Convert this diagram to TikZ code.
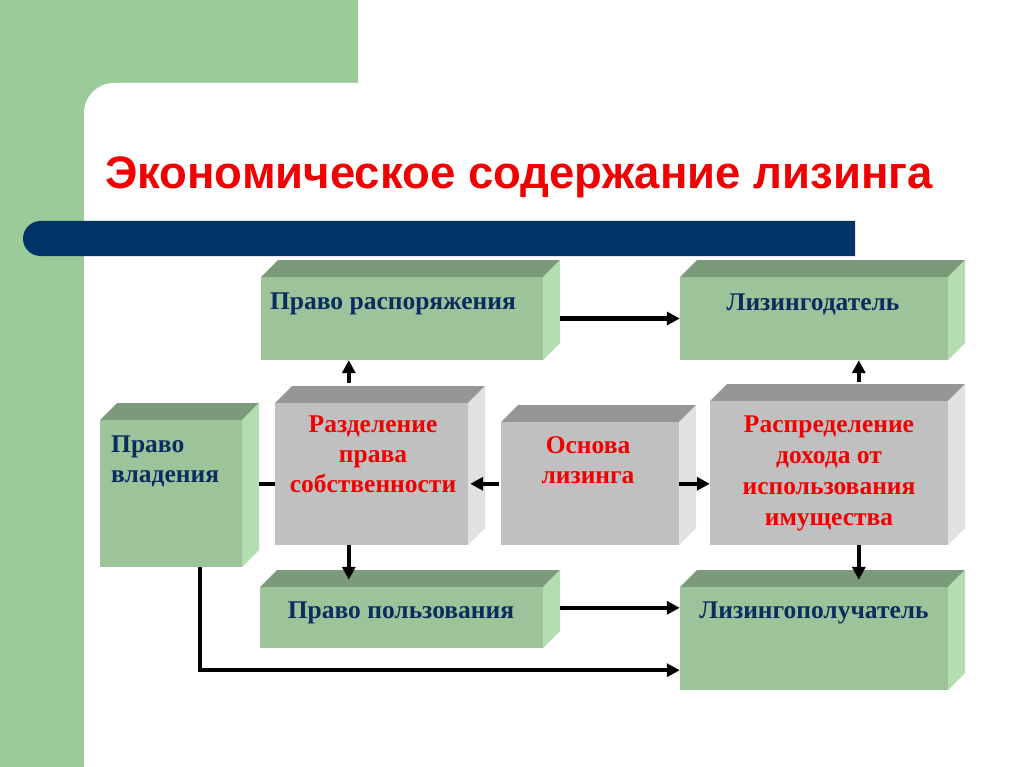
\documentclass[tikz,border=0pt]{standalone}
\usepackage{fontspec}
\setmainfont{Liberation Serif}
\newfontfamily\titlefont{Liberation Sans}
\usetikzlibrary{fit,calc,arrows.meta}
\definecolor{bggreen}{RGB}{155,203,153}
\definecolor{barblue}{RGB}{0,51,102}
\definecolor{gfront}{RGB}{157,195,155}
\definecolor{gtop}{RGB}{122,154,122}
\definecolor{gside}{RGB}{180,222,178}
\definecolor{sfront}{RGB}{192,192,192}
\definecolor{stop}{RGB}{150,150,150}
\definecolor{sside}{RGB}{225,225,225}
\definecolor{txtblue}{RGB}{10,45,95}
\definecolor{txtred}{RGB}{240,0,0}
\newcommand{\cubebox}[6]{%
  \fill[#6top] (#2,#3) -- (#2+17,#3-17) -- (#4+17,#3-17) -- (#4,#3) -- cycle;
  \fill[#6side] (#4,#3) -- (#4+17,#3-17) -- (#4+17,#5-17) -- (#4,#5) -- cycle;
  \node[fit={(#2,#3) (#4,#5)}, inner sep=0pt, fill=#6front] (#1) {};
}
\begin{document}
\begin{tikzpicture}[x=1pt,y=-1pt,
  arr/.style={line width=4.5pt, -{Triangle[length=13pt,width=13pt]}},
  ln/.style={line width=4.5pt},
  lbl/.style={font=\fontsize{25.5}{30}\selectfont\bfseries, text=txtblue, inner sep=0pt, anchor=base, align=center},
  rlbl/.style={lbl, text=txtred}]
\useasboundingbox (0,0) rectangle (1024,767);
% background
\fill[white] (0,0) rectangle (1024,767);
\fill[bggreen] (0,0) rectangle (358,140);
\fill[bggreen] (0,0) rectangle (84,767);
\fill[white, rounded corners=30pt] (84,83) rectangle (1080,820);
% bar
\fill[barblue] (855,221) -- (40.5,221) arc[start angle=270, end angle=90, radius=17.5] -- (855,256) -- cycle;
% title
\node[anchor=base west, font=\titlefont\fontsize{45.5}{50}\selectfont\bfseries, text=txtred, inner sep=0pt] (title) at (105,189) {Экономическое содержание лизинга};
% boxes
\cubebox{b1}{261}{277}{543}{360}{g}
\cubebox{b2}{680}{277}{948}{360}{g}
\cubebox{b3}{100}{420}{242}{567}{g}
\cubebox{b4}{275}{403}{468}{545}{s}
\cubebox{b5}{501}{422}{679}{545}{s}
\cubebox{b6}{710}{401}{948}{545}{s}
\cubebox{b7}{260}{587}{543}{648}{g}
\cubebox{b8}{680}{587}{948}{690}{g}
% labels (base anchor = last line baseline)
\node[lbl] (t1) at (393,309) {Право распоряжения};
\node[lbl] (t2) at (813,310) {Лизингодатель};
\node[lbl, anchor=base west, align=left] (t3) at (111,482) {Право\\владения};
\node[rlbl] (t4) at (373,492) {Разделение\\права\\собственности};
\node[rlbl] (t5) at (588,483) {Основа\\лизинга};
\node[rlbl, font=\fontsize{25.5}{31}\selectfont\bfseries] (t6) at (829,525) {Распределение\\дохода от\\использования\\имущества};
\node[lbl] (t7) at (401,618) {Право пользования};
\node[lbl] (t8) at (814,618) {Лизингополучатель};
% connectors
\draw[arr] ($(b1.east)+(17,0)$) -- (b2.west);
\coordinate (c1) at ($(b4.north west)+(74,-20)$);
\draw[arr] (c1) -- (c1 |- b1.south);
\coordinate (c2) at ($(b6.north west)+(149,-19)$);
\draw[arr] (c2) -- (c2 |- b2.south);
\coordinate (m5) at ($(b5.north west)+(-2,62)$);
\draw[arr] (m5) -- ($(b4.east |- m5)+(2,0)$);
\coordinate (m6) at ($(b5.north east)+(0,62)$);
\draw[arr] (m6) -- (b6.west |- m6);
\coordinate (m3) at ($(b3.north east)+(17,64)$);
\draw[ln] (m3) -- (b4.west |- m3);
\draw[arr] (c1 |- b4.south) -- ($(c1 |- b7.north)+(0,-7)$);
\draw[arr] (c2 |- b6.south) -- ($(c2 |- b8.north)+(0,-7)$);
\coordinate (m7) at ($(b7.north east)+(17,21)$);
\draw[arr] (m7) -- (b8.west |- m7);
\draw[arr] ($(b3.south west)+(100,0)$) |- ($(b8.south west)+(0,-20)$);
\end{tikzpicture}
\end{document}
